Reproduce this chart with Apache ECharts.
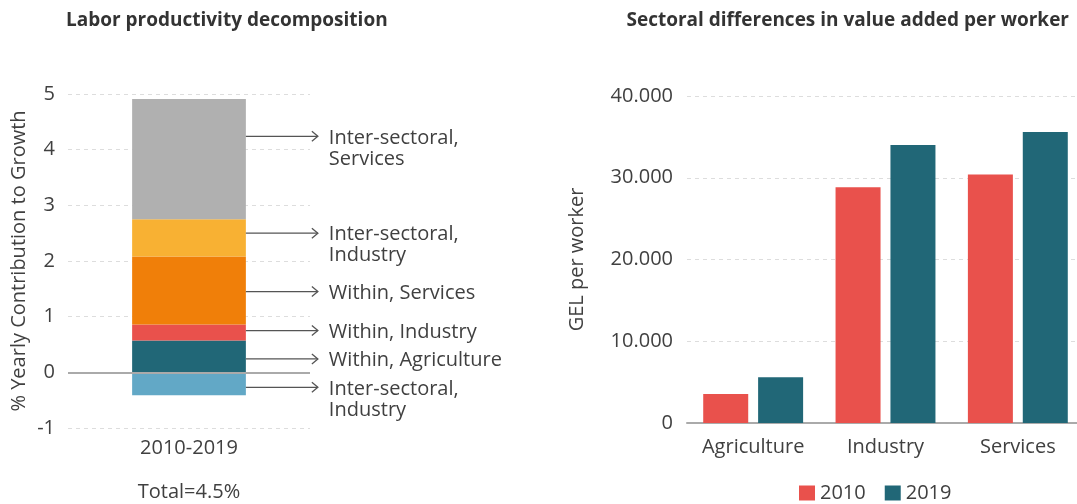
<!DOCTYPE html>
<html>
<head>
<meta charset="utf-8">
<script src="https://cdn.jsdelivr.net/npm/echarts@6/dist/echarts.min.js"></script>
<style>
  html, body { margin: 0; padding: 0; background: #fff; }
  #chart { width: 1077px; height: 504px; }
</style>
</head>
<body>
<div id="chart"></div>
<script>
// ---- Labor productivity decomposition (percentage points, 2010-2019) ----
const periodLabels = ['2010-2019'];
const componentNames = [
  'Inter-sectoral, Agriculture',
  'Within, Agriculture',
  'Within, Industry',
  'Within, Services',
  'Inter-sectoral, Industry',
  'Inter-sectoral, Services'
];
const componentValues = [-0.41, 0.57, 0.29, 1.22, 0.67, 2.16];
const componentColors = ['#62a8c6', '#216777', '#e9514c', '#f07f09', '#f8b133', '#b0b0b0'];
const totalLabel = 'Total=4.5%';

// Callouts: text and the value on the axis where each arrow points
const calloutTexts = [
  'Inter-sectoral,\nServices',
  'Inter-sectoral,\nIndustry',
  'Within, Services',
  'Within, Industry',
  'Within, Agriculture',
  'Inter-sectoral,\nIndustry'
];
const calloutAt = [4.24, 2.50, 1.45, 0.75, 0.24, -0.27];

// ---- Value added per worker by sector (GEL) ----
const sectors = ['Agriculture', 'Industry', 'Services'];
const years = ['2010', '2019'];
const gel2010 = [3550, 28850, 30400];
const gel2019 = [5600, 34000, 35600];
const yearColors = ['#e9514c', '#216777'];

const FONT = '"Open Sans", Lato, sans-serif';
const TEXT = '#404040';
const FS = 20;
const BAR_WIDTH_RATIO = 0.47;

const thousands = v => String(v).replace(/\B(?=(\d{3})+(?!\d))/g, '.');

const stackSeries = componentNames.map((name, i) => ({
  name: name,
  type: 'bar',
  stack: 'decomp',
  xAxisIndex: 0,
  yAxisIndex: 0,
  barWidth: (BAR_WIDTH_RATIO * 100) + '%',
  itemStyle: { color: componentColors[i] },
  data: [componentValues[i]],
  markLine: i === 0 ? {
    silent: true,
    symbol: 'none',
    label: { show: false },
    lineStyle: { color: '#aaaaaa', type: 'solid', width: 2 },
    data: [{ yAxis: 0 }]
  } : undefined
}));

const calloutSeries = {
  type: 'custom',
  xAxisIndex: 0,
  yAxisIndex: 0,
  silent: true,
  z: 5,
  data: calloutAt.map(v => [0, v]),
  renderItem: function (params, api) {
    const p = api.coord([api.value(0), api.value(1)]);
    const half = api.size([1, 0])[0] * BAR_WIDTH_RATIO / 2;
    const x0 = p[0] + half;
    const x1 = x0 + 72;
    const y = p[1];
    const stroke = { stroke: '#555555', lineWidth: 1.3, fill: null };
    return {
      type: 'group',
      children: [
        { type: 'line', shape: { x1: x0, y1: y, x2: x1, y2: y }, style: stroke },
        { type: 'polyline', shape: { points: [[x1 - 6, y - 5], [x1, y], [x1 - 6, y + 5]] }, style: stroke },
        {
          type: 'text',
          x: x1 + 11,
          y: y - 9,
          style: {
            text: calloutTexts[params.dataIndex],
            font: FS + 'px ' + FONT,
            fill: TEXT,
            lineHeight: 21,
            verticalAlign: 'top',
            align: 'left'
          }
        }
      ]
    };
  }
};

const option = {
  animation: false,
  textStyle: { fontFamily: FONT, color: TEXT },
  title: [
    {
      text: 'Labor productivity decomposition',
      left: 66, top: 11, padding: 0,
      textStyle: { fontFamily: FONT, fontSize: 19, fontWeight: 'bold', color: '#333333' }
    },
    {
      text: 'Sectoral differences in value added per worker',
      right: 8, top: 11, padding: 0,
      textStyle: { fontFamily: FONT, fontSize: 19, fontWeight: 'bold', color: '#333333' }
    }
  ],
  legend: {
    data: years,
    left: 799,
    top: 483,
    padding: 0,
    icon: 'rect',
    itemWidth: 16,
    itemHeight: 15,
    itemGap: 19,
    textStyle: { fontFamily: FONT, fontSize: FS, color: TEXT }
  },
  grid: [
    { left: 68, right: 767, top: 94, bottom: 76, outerBoundsMode: 'none' },
    { left: 687, right: -7, top: 96, bottom: 81, outerBoundsMode: 'none' }
  ],
  xAxis: [
    {
      gridIndex: 0,
      type: 'category',
      data: periodLabels,
      axisLine: { show: false },
      axisTick: { show: false },
      axisLabel: { fontSize: FS, color: TEXT, margin: 10, fontFamily: FONT, interval: 0 },
      name: totalLabel,
      nameLocation: 'middle',
      nameGap: 54,
      nameTextStyle: { fontSize: FS, color: TEXT, fontFamily: FONT }
    },
    {
      gridIndex: 1,
      type: 'category',
      data: sectors,
      axisLine: { show: true, lineStyle: { color: '#aaaaaa', width: 2 } },
      axisTick: { show: false },
      axisLabel: { fontSize: FS, color: TEXT, margin: 14, fontFamily: FONT, interval: 0, hideOverlap: false }
    }
  ],
  yAxis: [
    {
      gridIndex: 0,
      type: 'value',
      min: -1, max: 5, interval: 1,
      axisLine: { show: false },
      axisTick: { show: false },
      axisLabel: { fontSize: FS, color: TEXT, margin: 13, fontFamily: FONT },
      splitLine: { lineStyle: { color: '#dddddd', type: [4, 4] } },
      name: '% Yearly Contribution to Growth',
      nameLocation: 'middle',
      nameGap: 39,
      nameTextStyle: { fontSize: FS, color: TEXT, fontFamily: FONT }
    },
    {
      gridIndex: 1,
      type: 'value',
      min: 0, max: 40000, interval: 10000,
      axisLine: { show: false },
      axisTick: { show: false },
      axisLabel: { fontSize: FS, color: TEXT, margin: 14, fontFamily: FONT, formatter: thousands },
      splitLine: { lineStyle: { color: '#dddddd', type: [4, 4] } },
      name: 'GEL per worker',
      nameLocation: 'middle',
      nameGap: 100,
      nameTextStyle: { fontSize: FS, color: TEXT, fontFamily: FONT }
    }
  ],
  series: [
    ...stackSeries,
    calloutSeries,
    {
      name: years[0],
      type: 'bar',
      xAxisIndex: 1,
      yAxisIndex: 1,
      barWidth: 45,
      barGap: '22%',
      itemStyle: { color: yearColors[0] },
      data: gel2010
    },
    {
      name: years[1],
      type: 'bar',
      xAxisIndex: 1,
      yAxisIndex: 1,
      barWidth: 45,
      barGap: '22%',
      itemStyle: { color: yearColors[1] },
      data: gel2019
    }
  ]
};

const chart = echarts.init(document.getElementById('chart'), null, { renderer: 'canvas' });
chart.setOption(option);
</script>
</body>
</html>
